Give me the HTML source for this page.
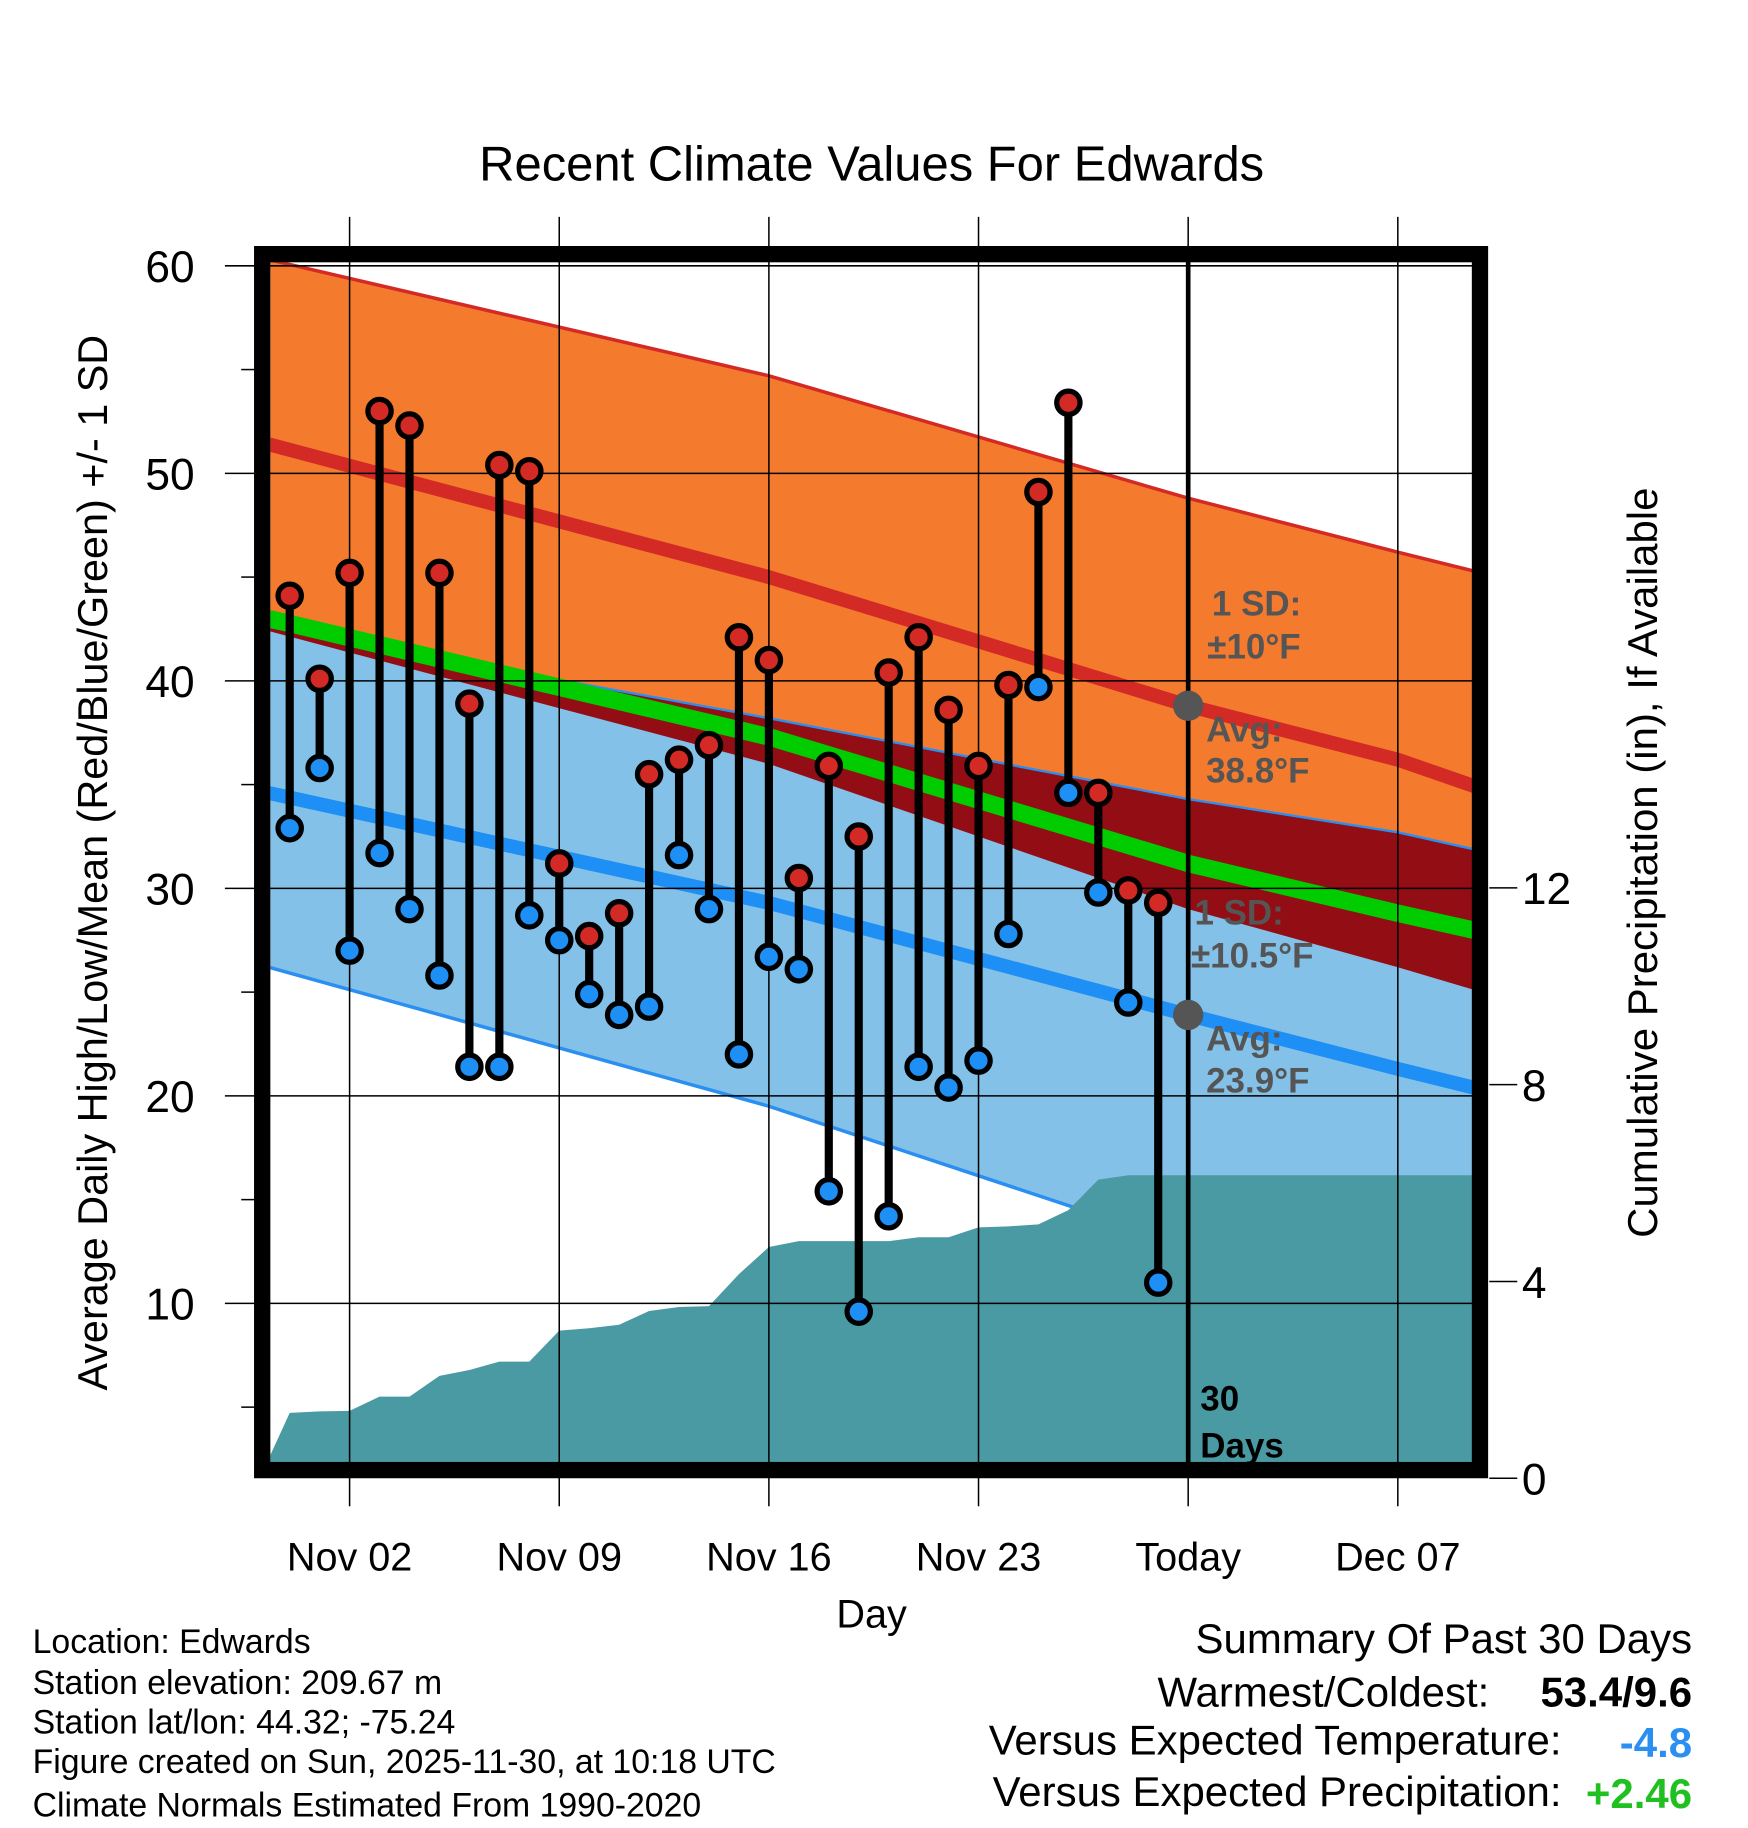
<!DOCTYPE html>
<html><head><meta charset="utf-8"><style>
html,body{margin:0;padding:0;background:#fff;}
svg{display:block;font-family:"Liberation Sans",Arial,sans-serif;}
</style></head><body>
<svg id="chart" width="1748" height="1828" viewBox="0 0 1500 1568" preserveAspectRatio="none" xmlns="http://www.w3.org/2000/svg">
<defs><clipPath id="plotclip"><rect x="232" y="218" width="1038" height="1043"/></clipPath></defs>
<g id="bands" clip-path="url(#plotclip)"></g>
<g id="grid"></g>
<g id="marks"></g>
<g id="axes"></g>
<text x="748" y="155" font-size="42" text-anchor="middle">Recent Climate Values For Edwards</text>
<text transform="translate(92,740) rotate(-90)" font-size="35.5" text-anchor="middle">Average Daily High/Low/Mean (Red/Blue/Green) +/- 1 SD</text>
<text transform="translate(1422,740) rotate(-90)" font-size="36" text-anchor="middle">Cumulative Precipitation (in), If Available</text>
<text x="748" y="1396" font-size="34" text-anchor="middle">Day</text>
<g font-size="30" font-weight="bold" fill="#555">
<text x="1040" y="528">1 SD:</text><text x="1036" y="565">±10°F</text>
<text x="1035" y="636">Avg:</text><text x="1035" y="671">38.8°F</text>
<text x="1025" y="793">1 SD:</text><text x="1022" y="830">±10.5°F</text>
<text x="1035" y="901">Avg:</text><text x="1035" y="937">23.9°F</text>
<text x="1030" y="1210" fill="#000">30</text><text x="1030" y="1250" fill="#000">Days</text>
</g>
<g font-size="29">
<text x="28" y="1418">Location: Edwards</text>
<text x="28" y="1453">Station elevation: 209.67 m</text>
<text x="28" y="1487">Station lat/lon: 44.32; -75.24</text>
<text x="28" y="1521">Figure created on Sun, 2025-11-30, at 10:18 UTC</text>
<text x="28" y="1558">Climate Normals Estimated From 1990-2020</text>
</g>
<g font-size="36" text-anchor="end">
<text x="1452" y="1418">Summary Of Past 30 Days</text>
<text x="1278" y="1464">Warmest/Coldest:</text>
<text x="1452" y="1464" font-weight="bold">53.4/9.6</text>
<text x="1340" y="1505">Versus Expected Temperature:</text>
<text x="1452" y="1507" font-weight="bold" fill="#2a8ff0">-4.8</text>
<text x="1340" y="1549">Versus Expected Precipitation:</text>
<text x="1452" y="1551" font-weight="bold" fill="#1fc01f">+2.46</text>
</g>
</svg>
<script>
// day offsets from Nov 02
const days = [-2,-1,0,1,2,3,4,5,6,7,8,9,10,11,12,13,14,15,16,17,18,19,20,21,22,23,24,25,26,27];
const highs = [44.1,40.1,45.2,53.0,52.3,45.2,38.9,50.4,50.1,31.2,27.7,28.8,35.5,36.2,36.9,42.1,41.0,30.5,35.9,32.5,40.4,42.1,38.6,35.9,39.8,49.1,53.4,34.6,29.9,29.3];
const lows = [32.9,35.8,27.0,31.7,29.0,25.8,21.4,21.4,28.7,27.5,24.9,23.9,24.3,31.6,29.0,22.0,26.7,26.1,15.4,9.6,14.2,21.4,20.4,21.7,27.8,39.7,34.6,29.8,24.5,11.0];
const precipDays = [-3,-2,-1,0,1,2,3,4,5,6,7,8,9,10,11,12,13,14,15,16,17,18,19,20,21,22,23,24,25,26,27];
const precip = [0,1.33,1.36,1.37,1.66,1.66,2.08,2.2,2.37,2.37,3.0,3.05,3.12,3.4,3.48,3.5,4.15,4.7,4.82,4.82,4.82,4.82,4.9,4.9,5.1,5.12,5.16,5.45,6.07,6.16,6.16];
// normals at sample days
const normDays = [-2.7,14,28,35,37.8];
const redUpper = [60.3,54.7,48.8,46.2,45.2];
const redAvg = [51.4,45.0,38.8,36.2,34.8];
const redLower = [42.4,36.0,29.0,26.2,25.0];
const blueUpper = [42.6,38.2,34.3,32.7,31.8];
const blueAvg = [34.6,29.3,23.9,21.3,20.3];
const blueLower = [26.2,19.5,12.8,10.0,8.8];
const meanAvg = [43.0,37.3,31.2,28.8,27.9];
const xTickDays = [0,7,14,21,28,35];
const xTickLabels = ["Nov 02","Nov 09","Nov 16","Nov 23","Today","Dec 07"];
const yTicks = [10,20,30,40,50,60];
const y2Ticks = [0,4,8,12];

const NS="http://www.w3.org/2000/svg";
const X=d=>300+25.7*d, Y=v=>228+(60-v)*17.8, Y2=p=>1268-42.2*p;
function mk(parent,tag,attrs){const e=document.createElementNS(NS,tag);for(const k in attrs)e.setAttribute(k,attrs[k]);document.getElementById(parent).appendChild(e);return e;}
const linePts=(arr)=>normDays.map((d,i)=>X(d)+","+Y(arr[i]));
function band(up,lo,fill,name){const p=linePts(up).concat(linePts(lo).reverse()).join(" ");const e=mk('bands','polygon',{points:p,fill:fill});

}
function line(arr,stroke,w,name){const e=mk('bands','polyline',{points:linePts(arr).join(" "),fill:"none",stroke:stroke,"stroke-width":w});

}
band(redUpper,redLower,"#f47a2e","high-sd-band");
band(blueUpper,blueLower,"#84c1e8","low-sd-band");
band(blueUpper,redLower,"#930d14","overlap-band");
line(redUpper,"#d42a25",3,"high-upper-line");
line(blueUpper,"#2a8ff0",2,"low-upper-line");
line(blueLower,"#2a8ff0",3,"low-lower-line");
line(redAvg,"#d42a25",12,"avg-high-line");
line(blueAvg,"#1e8ff5",12,"avg-low-line");
line(meanAvg,"#00cc00",15,"avg-mean-line");
{let pts=precipDays.map((d,i)=>X(d)+","+Y2(precip[i]));
pts.push("1280,"+Y2(precip[precip.length-1]));pts.push("1280,1270");pts.push(X(precipDays[0])+",1270");
const e=mk('bands','polygon',{points:pts.join(" "),fill:"#4a9aa3"});

}
xTickDays.forEach((d,i)=>{const x=X(d);
const g=mk('grid','line',{x1:x,x2:x,y1:186,y2:1292,stroke:"#000","stroke-width":1.3});


const t=mk('axes','text',{x:x,y:1347,"font-size":34,"text-anchor":"middle"});t.textContent=xTickLabels[i];

});
yTicks.forEach(v=>{const y=Y(v);
const g=mk('grid','line',{x1:193,x2:1270,y1:y,y2:y,stroke:"#000","stroke-width":1.3});


const t=mk('axes','text',{x:167,y:y+14,"font-size":38,"text-anchor":"end"});t.textContent=v;

});
[5,15,25,35,45,55].forEach(v=>{const m=mk('grid','line',{x1:207,x2:218,y1:Y(v),y2:Y(v),stroke:"#000","stroke-width":1.3});

});
y2Ticks.forEach(p=>{const y=Y2(p);
const g=mk('grid','line',{x1:1278,x2:1302,y1:y,y2:y,stroke:"#000","stroke-width":1.3});


const t=mk('axes','text',{x:1306,y:y+14,"font-size":38});t.textContent=p;

});
{const e=mk('grid','line',{x1:X(28),x2:X(28),y1:224,y2:1262,stroke:"#000","stroke-width":4});

}
{const e=mk('axes','rect',{x:225,y:218,width:1045,height:1043,fill:"none",stroke:"#000","stroke-width":14});

}
[[38.8,'avg-high-dot'],[23.9,'avg-low-dot']].forEach(a=>{const e=mk('marks','circle',{cx:X(28),cy:Y(a[0]),r:13,fill:"#555"});

});
days.forEach((d,i)=>{const x=X(d);
const l=mk('marks','line',{x1:x,x2:x,y1:Y(highs[i]),y2:Y(lows[i]),stroke:"#000","stroke-width":7});


const h=mk('marks','circle',{cx:x,cy:Y(highs[i]),r:10,fill:"#d42a25",stroke:"#000","stroke-width":4.5});


const lo=mk('marks','circle',{cx:x,cy:Y(lows[i]),r:10,fill:"#1e8ff5",stroke:"#000","stroke-width":4.5});

});
</script>
</body></html>
